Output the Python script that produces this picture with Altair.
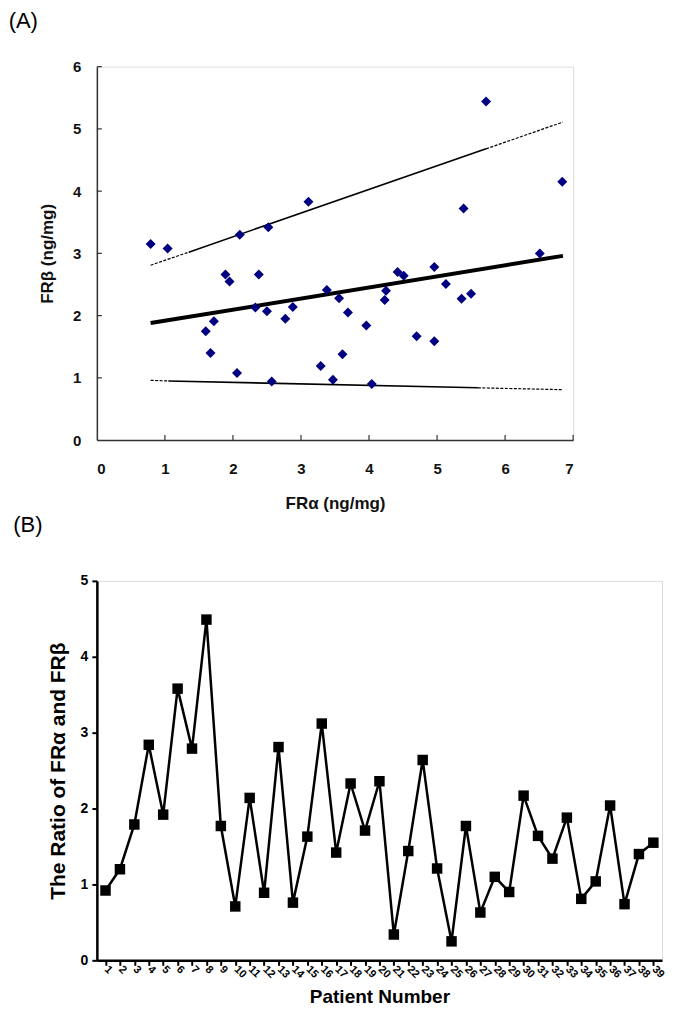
import altair as alt
import pandas as pd

# ---------------- Panel A data ----------------
FR_ALPHA = [0.79, 1.04, 2.10, 2.52, 3.11, 1.89, 1.95, 2.38, 2.33, 2.50,
            1.60, 1.72, 1.67, 2.06, 2.57, 2.77, 2.88, 3.38, 3.56, 3.69,
            3.29, 3.47, 3.61, 3.96, 4.04, 4.25, 4.23, 5.72, 6.84, 5.39,
            6.51, 4.42, 4.51, 4.96, 5.13, 5.36, 5.50, 4.70, 4.96]
FR_BETA = [3.15, 3.08, 3.30, 3.42, 3.83, 2.66, 2.55, 2.66, 2.13, 2.07,
           1.75, 1.91, 1.40, 1.08, 0.94, 1.95, 2.14, 2.41, 2.28, 2.05,
           1.19, 0.97, 1.38, 1.84, 0.90, 2.40, 2.25, 5.44, 4.15, 3.72,
           3.00, 2.70, 2.64, 2.78, 2.51, 2.27, 2.35, 1.67, 1.59]

FIT_X = [0.79, 6.85]
FIT_Y = [1.88, 2.96]
UPPER_X = [0.79, 1.35, 5.72, 6.85]
UPPER_Y = [2.81, 3.02, 4.68, 5.11]
LOWER_X = [0.79, 1.05, 5.60, 6.85]
LOWER_Y = [0.96, 0.95, 0.84, 0.81]

A_XTICKS = [0, 1, 2, 3, 4, 5, 6, 7]
A_YTICKS = [0, 1, 2, 3, 4, 5, 6]

# ---------------- Panel B data ----------------
PATIENTS = list(range(1, 40))
RATIO = [0.92, 1.20, 1.79, 2.84, 1.92, 3.58, 2.79, 4.49, 1.77, 0.71,
         2.14, 0.89, 2.81, 0.76, 1.63, 3.12, 1.42, 2.33, 1.71, 2.36,
         0.34, 1.44, 2.64, 1.21, 0.25, 1.77, 0.63, 1.10, 0.90, 2.17,
         1.64, 1.34, 1.88, 0.81, 1.04, 2.04, 0.74, 1.40, 1.55]
B_YTICKS = [0, 1, 2, 3, 4, 5]

FONT = "Liberation Sans"

# ---------------- Panel A ----------------
A_W, A_H = 477, 374
scatter_df = pd.DataFrame({"a": FR_ALPHA, "b": FR_BETA})

seg_rows = []
for name, xs, ys in [("upper", UPPER_X, UPPER_Y), ("lower", LOWER_X, LOWER_Y)]:
    for i in range(3):
        style = "solid" if i == 1 else "dashed"
        for j in (i, i + 1):
            seg_rows.append({"seg": f"{name}{i}", "style": style, "a": xs[j], "b": ys[j]})
seg_df = pd.DataFrame(seg_rows)
fit_df = pd.DataFrame({"a": FIT_X, "b": FIT_Y})

xA = alt.X("a:Q", scale=alt.Scale(domain=[0, 7], nice=False),
           axis=alt.Axis(values=A_XTICKS, format="d", title="FRα (ng/mg)", ticks=False,
                         grid=False, domainColor="#333333", domainWidth=1.5,
                         labelFont=FONT, labelFontSize=15, labelFontWeight="bold",
                         labelColor="#111111", labelPadding=21,
                         titleFont=FONT, titleFontSize=17, titleFontWeight="bold",
                         titleColor="#111111", titlePadding=20))
yA = alt.Y("b:Q", scale=alt.Scale(domain=[0, 6], nice=False),
           axis=alt.Axis(values=A_YTICKS, format="d", title="FRβ (ng/mg)", ticks=False,
                         grid=False, domainColor="#333333", domainWidth=1.5,
                         labelFont=FONT, labelFontSize=15, labelFontWeight="bold",
                         labelColor="#111111", labelPadding=16,
                         titleFont=FONT, titleFontSize=17, titleFontWeight="bold",
                         titleColor="#111111", titlePadding=16))

pts = alt.Chart(scatter_df).mark_point(shape="diamond", filled=True, size=100,
                                       color="#000080", opacity=1).encode(x=xA, y=yA)
fit = alt.Chart(fit_df).mark_line(color="black", strokeWidth=4).encode(x="a:Q", y="b:Q")
solid = alt.Chart(seg_df).transform_filter(alt.datum.style == "solid").mark_line(
    color="black", strokeWidth=1.6).encode(x="a:Q", y="b:Q", detail="seg:N")
dashed = alt.Chart(seg_df).transform_filter(alt.datum.style == "dashed").mark_line(
    color="black", strokeWidth=1.2, strokeDash=[3, 1.5]).encode(x="a:Q", y="b:Q", detail="seg:N")

xt_df = pd.DataFrame({"a": A_XTICKS[1:]})
yt_df = pd.DataFrame({"b": A_YTICKS[1:]})
xticks = alt.Chart(xt_df).mark_rule(color="#333333", strokeWidth=1.2).encode(
    x="a:Q", y=alt.value(A_H), y2=alt.value(A_H - 5))
yticks = alt.Chart(yt_df).mark_rule(color="#333333", strokeWidth=1.2).encode(
    y="b:Q", x=alt.value(0), x2=alt.value(5))

panelA = alt.layer(xticks, yticks, fit, solid, dashed, pts).properties(
    width=A_W, height=A_H,
    title=alt.TitleParams("(A)", anchor="start", frame="bounds", font=FONT,
                          fontSize=22, fontWeight="normal", color="black",
                          dx=-30, offset=27))

# ---------------- Panel B ----------------
B_W, B_H = 566, 380
ratio_df = pd.DataFrame({"p": PATIENTS, "r": RATIO})
xB = alt.X("p:O", sort=PATIENTS, scale=alt.Scale(type="point", padding=0.6),
           axis=alt.Axis(title="Patient Number", grid=False,
                         domainColor="black", domainWidth=2.5, tickColor="black",
                         tickWidth=2, tickSize=5, labelAngle=45, labelAlign="left",
                         labelBaseline="middle", labelOverlap=False,
                         labelFont=FONT, labelFontSize=11, labelFontWeight="bold",
                         labelColor="black", labelPadding=2,
                         titleFont=FONT, titleFontSize=19, titleFontWeight="bold",
                         titleColor="black", titlePadding=8))
yB = alt.Y("r:Q", scale=alt.Scale(domain=[0, 5], nice=False),
           axis=alt.Axis(values=B_YTICKS, format="d", title="The Ratio of FRα and FRβ",
                         grid=False, domainColor="black", domainWidth=2.5,
                         tickColor="black", tickWidth=2, tickSize=5,
                         labelFont=FONT, labelFontSize=14, labelFontWeight="bold",
                         labelColor="black", labelPadding=4,
                         titleFont=FONT, titleFontSize=21, titleFontWeight="bold",
                         titleColor="black", titlePadding=12))

lineB = alt.Chart(ratio_df).mark_line(color="black", strokeWidth=2.5).encode(x=xB, y=yB)
sqB = alt.Chart(ratio_df).mark_point(shape="square", filled=True, size=110,
                                     color="black", opacity=1).encode(
    x=alt.X("p:O", sort=PATIENTS), y="r:Q")
panelB = alt.layer(lineB, sqB).properties(
    width=B_W, height=B_H,
    title=alt.TitleParams("(B)", anchor="start", frame="bounds", font=FONT,
                          fontSize=22, fontWeight="normal", color="black",
                          dx=-34, offset=37))

chart = alt.vconcat(panelA, panelB, spacing=0).properties(padding=0).configure_view(
    stroke=None).configure(background="white")

chart.save("out.html", embed_options={"renderer": "svg", "actions": False})
